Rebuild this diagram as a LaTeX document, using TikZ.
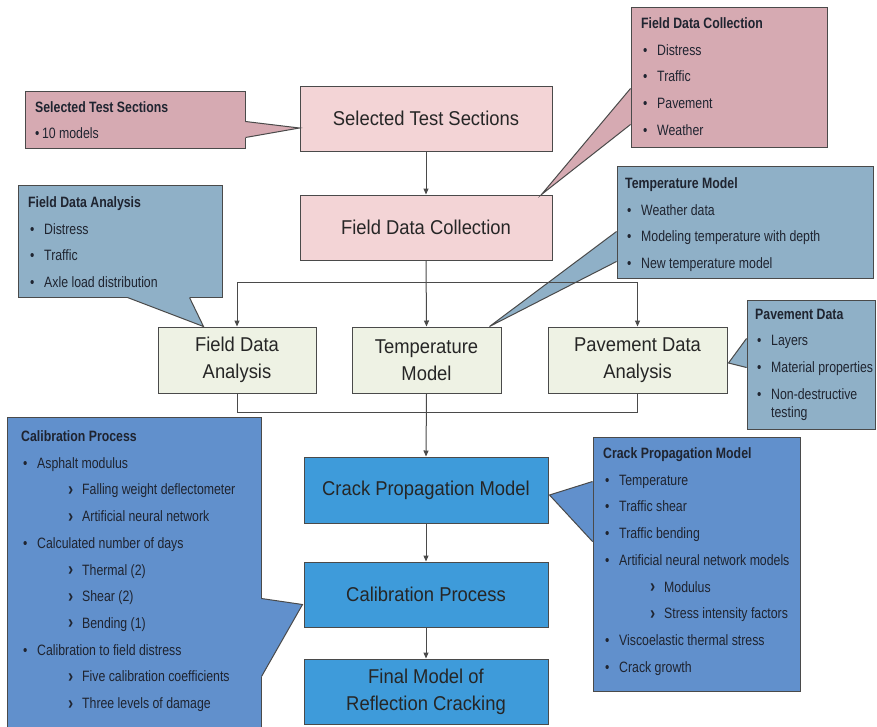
\documentclass[tikz,border=0pt]{standalone}
\usepackage{fontspec}
\setmainfont{Liberation Sans}
\newfontfamily\boxfont[FakeStretch=0.92]{Liberation Sans}
\newfontfamily\callfont[FakeStretch=0.82]{Liberation Sans}
\usetikzlibrary{arrows.meta,calc}
\definecolor{pinkbox}{HTML}{F3D4D6}
\definecolor{pinkcall}{HTML}{D6AAB2}
\definecolor{greycall}{HTML}{8FB0C7}
\definecolor{greenbox}{HTML}{EEF2E4}
\definecolor{bluebox}{HTML}{3E9BDA}
\definecolor{bluecall}{HTML}{6190CC}
\definecolor{edgec}{HTML}{4A4A4A}
\definecolor{txt}{HTML}{262626}
\definecolor{ctxt}{HTML}{1F2430}
\newcommand\itm[1]{\hspace*{2pt}\makebox[14pt][l]{\textbullet}#1}
\newcommand\sitm[1]{\hspace*{47pt}\makebox[14pt][l]{\raisebox{-0.5pt}{\fontsize{19}{19}\selectfont\bfseries ›}}#1}
\newcommand\callwedge[4]{%
  \fill[#1] (#2) -- (#3) -- (#4) -- cycle;
  \draw[#1, line width=1.8pt] (#2) -- (#4);
  \draw[edgec, line width=1pt, line join=miter] (#2) -- (#3) -- (#4);}
\begin{document}
\begin{tikzpicture}[x=1pt,y=-1pt,
  mainbox/.style={draw=edgec, line width=1pt, minimum height=65pt, align=center,
    font=\boxfont\fontsize{20}{27}\selectfont, text=txt, inner sep=0pt},
  callbody/.style={draw=edgec, line width=1pt, inner sep=0pt},
  calltext/.style={anchor=north west, inner sep=0pt, align=left, text=ctxt,
    font=\callfont\fontsize{15}{26.7}\selectfont},
  arr/.style={-{Triangle[length=6pt,width=5pt]}, draw=edgec, line width=1pt},
  conn/.style={draw=edgec, line width=1pt}]
\useasboundingbox (0,0) rectangle (877,726);
\fill[white] (0,0) rectangle (877,726);

% main boxes
\node[mainbox, fill=pinkbox, minimum width=252pt] (sel) at (426,118.5) {Selected Test Sections};
\node[mainbox, fill=pinkbox, minimum width=252pt] (fdc) at (426,227.5) {Field Data Collection};
\node[mainbox, fill=greenbox, minimum width=158pt, minimum height=66pt] (fda) at (237,360) {Field Data\\Analysis};
\node[mainbox, fill=greenbox, minimum width=149pt, minimum height=66pt] (tm) at (426.5,360) {Temperature\\Model};
\node[mainbox, fill=greenbox, minimum width=179pt, minimum height=66pt] (pda) at (637.5,360) {Pavement Data\\Analysis};
\node[mainbox, fill=bluebox, minimum width=244pt, minimum height=66pt] (cpm) at (426,490) {Crack Propagation Model};
\node[mainbox, fill=bluebox, minimum width=244pt] (cal) at (426,594.5) {Calibration Process};
\node[mainbox, fill=bluebox, minimum width=244pt] (fin) at (426,691.5) {Final Model of\\Reflection Cracking};

% callout bodies
\node[callbody, fill=pinkcall, minimum width=220pt, minimum height=57pt] (cSel) at (135,119.5) {};
\node[callbody, fill=pinkcall, minimum width=196pt, minimum height=140pt] (cFdc) at (729,77) {};
\node[callbody, fill=greycall, minimum width=204pt, minimum height=112pt] (cFda) at (120,241) {};
\node[callbody, fill=greycall, minimum width=256pt, minimum height=112pt] (cTm) at (745,222) {};
\node[callbody, fill=greycall, minimum width=128pt, minimum height=129pt] (cPd) at (811,364.5) {};
\node[callbody, fill=bluecall, minimum width=254pt, minimum height=313pt] (cCal) at (134,573.5) {};
\node[callbody, fill=bluecall, minimum width=207pt, minimum height=254pt] (cCpm) at (696.5,564) {};

% callout pointers
\callwedge{pinkcall}{$(cSel.north east)+(0,31)$}{$(sel.west)+(0,9.5)$}{$(cSel.north east)+(0,47)$}
\callwedge{pinkcall}{$(cFdc.north west)+(0,82)$}{$(fdc.north east)+(-11,0)$}{$(cFdc.north west)+(0,118)$}
\callwedge{greycall}{$(cFda.south west)+(110,0)$}{$(fda.north west)+(46,0)$}{$(cFda.south west)+(172,0)$}
\callwedge{greycall}{$(cTm.north west)+(0,66)$}{$(tm.north east)+(-12,0)$}{$(cTm.north west)+(0,96)$}
\callwedge{greycall}{$(cPd.north west)+(0,39)$}{$(pda.east)+(1,3)$}{$(cPd.north west)+(0,68)$}
\callwedge{bluecall}{$(cCal.north east)+(0,182)$}{$(cal.west)+(-1,10)$}{$(cCal.north east)+(0,260)$}
\callwedge{bluecall}{$(cCpm.north west)+(0,45)$}{$(cpm.east)+(1,5)$}{$(cCpm.north west)+(0,105)$}

% callout texts
\node[calltext] (tSel) at (35,101) {\textbf{Selected Test Sections}\\\textbullet\,10 models};
\node[calltext] (tFdc) at (641,17.5) {\textbf{Field Data Collection}\\\itm{Distress}\\\itm{Traffic}\\\itm{Pavement}\\\itm{Weather}};
\node[calltext] (tFda) at (28,196.5) {\textbf{Field Data Analysis}\\\itm{Distress}\\\itm{Traffic}\\\itm{Axle load distribution}};
\node[calltext] (tTm) at (625,177.5) {\textbf{Temperature Model}\\\itm{Weather data}\\\itm{Modeling temperature with depth}\\\itm{New temperature model}};
\node[calltext] (tPd) at (755,308.5) {\textbf{Pavement Data}\\\itm{Layers}\\\itm{Material properties}\\\itm{Non-destructive}\\[-8pt]\hspace*{16pt}testing};
\node[calltext] (tCal) at (21,430.5) {\textbf{Calibration Process}\\\itm{Asphalt modulus}\\\sitm{Falling weight deflectometer}\\\sitm{Artificial neural network}\\\itm{Calculated number of days}\\\sitm{Thermal (2)}\\\sitm{Shear (2)}\\\sitm{Bending (1)}\\\itm{Calibration to field distress}\\\sitm{Five calibration coefficients}\\\sitm{Three levels of damage}};
\node[calltext] (tCpm) at (603,447.5) {\textbf{Crack Propagation Model}\\\itm{Temperature}\\\itm{Traffic shear}\\\itm{Traffic bending}\\\itm{Artificial neural network models}\\\sitm{Modulus}\\\sitm{Stress intensity factors}\\\itm{Viscoelastic thermal stress}\\\itm{Crack growth}};

% connectors
\coordinate (split) at (426,282);
\coordinate (join) at (426,412);
\draw[arr] (sel.south) -- (fdc.north);
\draw[arr] (fdc.south) -- (tm.north);
\draw[arr] (split) -| (fda.north);
\draw[arr] (split) -| (pda.north);
\draw[conn] (fda.south) |- (join);
\draw[conn] (pda.south) |- (join);
\draw[arr] (tm.south) -- (cpm.north);
\draw[arr] (cpm.south) -- (cal.north);
\draw[arr] (cal.south) -- (fin.north);
\end{tikzpicture}
\end{document}
